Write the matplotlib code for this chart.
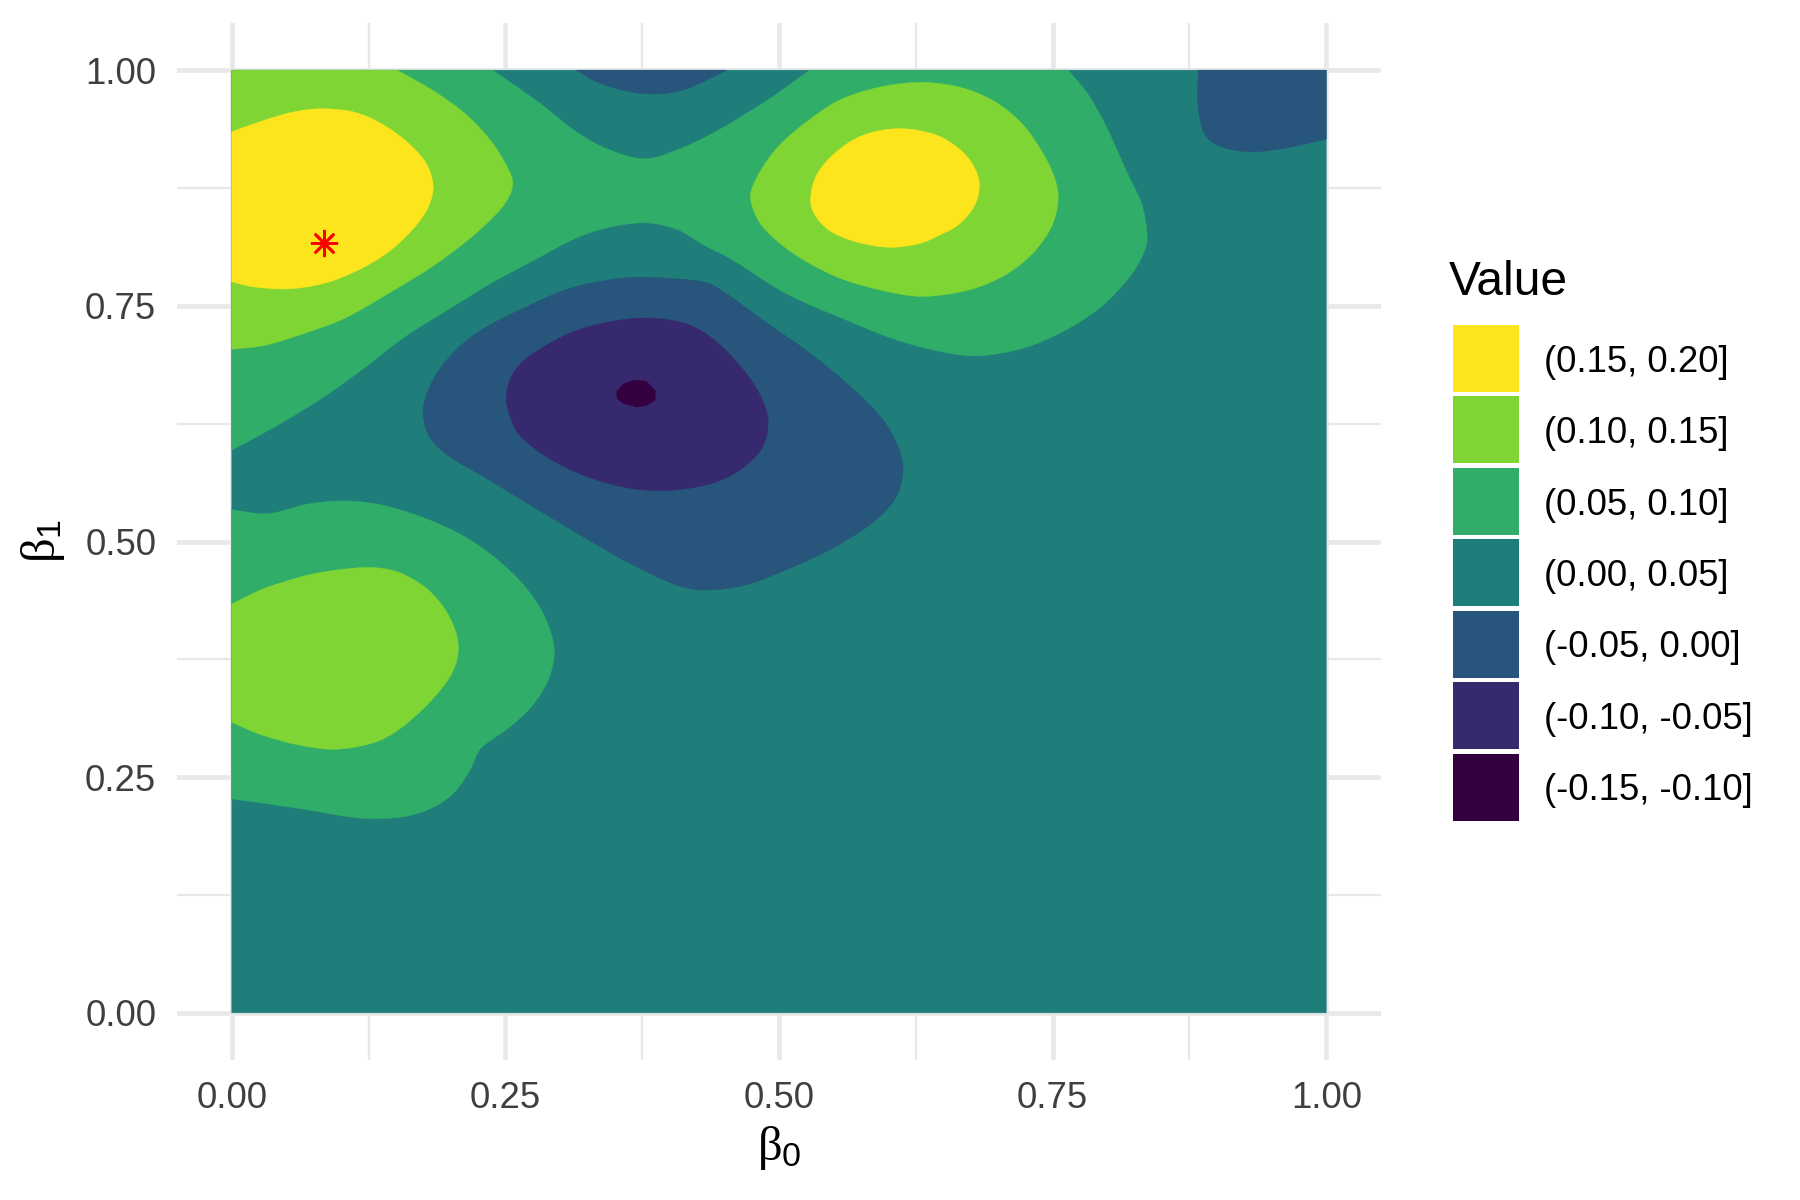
import matplotlib
matplotlib.use("Agg")
import matplotlib.pyplot as plt
from matplotlib.patches import Patch, PathPatch
from matplotlib.path import Path

# contour outlines, (beta0, beta1)
green_top_lower = [(0, .597), (.040, .622), (.0825, .652), (.1187, .682), (.158, .717), (.195, .744), (.237, .774),
                   (.274, .797), (.313, .821), (.344, .833), (.378, .838), (.407, .831), (.432, .814),
                   (.458, .7985), (.5065, .763), (.5613, .735), (.607, .714), (.650, .701), (.683, .697),
                   (.723, .705), (.759, .7225), (.790, .745), (.811, .768), (.826, .790), (.835, .812), (.836, .830),
                   (.831, .859), (.817, .894), (.799, .940), (.782, .975), (.764, 1)]
green_top_notch = [(.528, 1), (.4944, .972), (.470, .954), (.444, .936), (.4125, .918), (.378, .906), (.344, .916),
                   (.313, .936), (.2815, .965), (.2385, 1)]
green_bottom = [(0, .534), (.0213, .530), (.0396, .5306), (.070, .5398), (.1035, .543), (.137, .5387), (.1766, .5246),
                (.213, .505), (.2435, .480), (.268, .452), (.286, .420), (.2947, .385), (.289, .353), (.274, .325),
                (.2527, .302), (.228, .281), (.2177, .2577), (.204, .2347), (.1857, .219), (.1613, .209),
                (.134, .206), (.1065, .208), (.061, .217), (0, .227)]
lime_left = [(0, .704), (.030, .708), (.067, .721), (.1035, .737), (.143, .763), (.183, .7915), (.216, .820),
             (.238, .843), (.2505, .860), (.2565, .877), (.2535, .893), (.2374, .924), (.213, .954), (.183, .979),
             (.151, 1)]
lime_mid = [(.4745, .860), (.4755, .875), (.484, .895), (.5005, .9205), (.525, .945), (.555, .968), (.592, .982),
            (.631, .987), (.668, .981), (.698, .966), (.723, .942), (.741, .912), (.752, .885), (.755, .862),
            (.749, .834), (.732, .806), (.707, .783), (.674, .767), (.631, .760), (.592, .767), (.552, .781),
            (.5126, .806), (.485, .834)]
lime_bottom = [(0, .4337), (.030, .4503), (.070, .4645), (.1035, .4708), (.131, .4722), (.155, .4662), (.1796, .4486),
               (.198, .422), (.207, .3902), (.201, .360), (.1796, .328), (.152, .300), (.128, .286), (.0944, .2796),
               (.061, .2842), (.0274, .2948), (0, .3082)]
yellow_left = [(0, .9346), (.030, .947), (.058, .956), (.082, .959), (.110, .956), (.134, .945), (.158, .926),
               (.1766, .903), (.184, .878), (.1796, .855), (.166, .832), (.143, .807), (.1157, .788), (.085, .774),
               (.052, .768), (.021, .770), (0, .7755)]
yellow_mid = [(.529, .866), (.535, .890), (.552, .913), (.577, .931), (.610, .938), (.644, .931), (.668, .913),
              (.680, .893), (.683, .875), (.678, .855), (.664, .836), (.645, .824), (.628, .816), (.601, .812),
              (.570, .818), (.546, .830), (.532, .848)]
blue_top = [(.3145, 1), (.339, .985), (.376, .975), (.4125, .979), (.452, 1)]
blue_right = [(.883, 1), (.883, .961), (.890, .930), (.909, .917), (.935, .9135), (.966, .918), (1, .927)]
blue_mid = [(.1747, .6377), (.1808, .664), (.196, .692), (.2235, .721), (.263, .7455), (.3087, .7685), (.354, .779),
            (.385, .780), (.430, .7755), (.4518, .763), (.485, .735), (.528, .700), (.5675, .662), (.595, .629),
            (.610, .597), (.613, .572), (.6055, .544), (.5827, .5175), (.546, .491), (.5065, .470), (.470, .454),
            (.4335, .4485), (.406, .454), (.3665, .475), (.324, .503), (.278, .535), (.2326, .567), (.199, .590),
            (.1808, .611)]
purple = [(.2508, .6536), (.2565, .677), (.2725, .697), (.3087, .721), (.345, .733), (.3817, .737), (.415, .731),
          (.4396, .715), (.464, .687), (.482, .657), (.490, .629), (.485, .6005), (.467, .578), (.4396, .562),
          (.403, .5545), (.3665, .556), (.324, .569), (.2874, .590), (.263, .613), (.254, .634)]
dark = [(.3513, .6589), (.3574, .667), (.3665, .6712), (.3787, .6705), (.3872, .660), (.3872, .650), (.3787, .6437),
        (.3696, .6423), (.3574, .6465), (.3519, .6518)]

beta0_best = [.0843]
beta1_best = [.8165]

major_ticks = [0, .25, .5, .75, 1]
minor_ticks = [.125, .375, .625, .875]
tick_labels = ["0.00", "0.25", "0.50", "0.75", "1.00"]

bins = ["(0.15, 0.20]", "(0.10, 0.15]", "(0.05, 0.10]", "(0.00, 0.05]",
        "(-0.05, 0.00]", "(-0.10, -0.05]", "(-0.15, -0.10]"]
colors = ["#FDE51E", "#7FD534", "#30AE69", "#1F7E79", "#27557B", "#36296E", "#34003F"]

plt.rcParams["font.family"] = ["Liberation Sans", "DejaVu Sans"]
plt.rcParams["mathtext.fontset"] = "custom"
plt.rcParams["mathtext.rm"] = "Liberation Sans"
plt.rcParams["mathtext.it"] = "Liberation Serif"


def smooth_run(pts, closed=False):
    # Catmull-Rom through the points, returned as bezier vertices
    n = len(pts)
    verts = []
    last = n if closed else n - 1
    for i in range(last):
        if closed:
            p0, p1, p2, p3 = pts[i - 1], pts[i], pts[(i + 1) % n], pts[(i + 2) % n]
        else:
            p0, p1, p2, p3 = pts[max(i - 1, 0)], pts[i], pts[i + 1], pts[min(i + 2, n - 1)]
        c1 = (p1[0] + (p2[0] - p0[0]) / 6, p1[1] + (p2[1] - p0[1]) / 6)
        c2 = (p2[0] - (p3[0] - p1[0]) / 6, p2[1] - (p3[1] - p1[1]) / 6)
        verts += [c1, c2, p2]
    return verts


def add_region(ax, runs, color, z, closed=False):
    verts = []
    codes = []
    for run in runs:
        verts.append(run[0])
        codes.append(Path.LINETO if codes else Path.MOVETO)
        if len(run) > 1:
            curve = smooth_run(run, closed)
            verts += curve
            codes += [Path.CURVE4] * len(curve)
    verts.append(verts[0])
    codes.append(Path.CLOSEPOLY)
    ax.add_patch(PathPatch(Path(verts, codes), fc=color, ec=color, lw=0.3, zorder=z))


def main():
    fig = plt.figure(figsize=(18, 12), dpi=100)
    ax = fig.add_axes([177 / 1800, 140 / 1200, 1204 / 1800, 1037 / 1200])
    ax.set_xlim(-.05, 1.05)
    ax.set_ylim(-.05, 1.05)

    ax.set_xticks(major_ticks)
    ax.set_xticklabels(tick_labels)
    ax.set_yticks(major_ticks)
    ax.set_yticklabels(tick_labels)
    ax.set_xticks(minor_ticks, minor=True)
    ax.set_yticks(minor_ticks, minor=True)
    ax.grid(True, which="major", color="#E8E8E8", lw=3.3, zorder=0)
    ax.grid(True, which="minor", color="#E8E8E8", lw=1.65, zorder=0)
    ax.set_axisbelow(True)
    ax.tick_params(which="both", length=0)
    ax.tick_params(axis="both", labelsize=26.3, labelcolor="#3F3F3F", pad=15)
    for s in ax.spines.values():
        s.set_visible(False)

    add_region(ax, [[(0, 0), (1, 0)], [(1, 1)], [(0, 1)]], colors[3], 2)
    add_region(ax, [green_top_lower, green_top_notch, [(0, 1)]], colors[2], 3)
    add_region(ax, [green_bottom], colors[2], 3)
    add_region(ax, [lime_left, [(0, 1)]], colors[1], 4)
    add_region(ax, [lime_mid], colors[1], 4, closed=True)
    add_region(ax, [lime_bottom], colors[1], 4)
    add_region(ax, [yellow_left], colors[0], 5)
    add_region(ax, [yellow_mid], colors[0], 5, closed=True)
    add_region(ax, [blue_top], colors[4], 3)
    add_region(ax, [blue_right, [(1, 1)]], colors[4], 3)
    add_region(ax, [blue_mid], colors[4], 3, closed=True)
    add_region(ax, [purple], colors[5], 4, closed=True)
    ax.fill(*zip(*dark), color=colors[6], lw=0, zorder=5)

    ax.scatter(beta0_best, beta1_best, marker=(8, 2, 0), s=324, c="#FF0000", lw=1.9, zorder=6)

    ax.set_xlabel(r"$\beta_{0}$", fontsize=35, labelpad=6)
    ax.set_ylabel(r"$\beta_{1}$", fontsize=35, labelpad=13)

    handles = [Patch(fc=c, ec="none") for c in colors]
    leg = fig.legend(handles, bins, loc="upper left", bbox_to_anchor=(1453 / 1800, 1 - 325 / 1200),
                     frameon=False, fontsize=26.3, handlelength=1.81, handleheight=2.44,
                     handletextpad=.69, labelspacing=.125, borderpad=0, borderaxespad=0)
    for t in leg.get_texts():
        t.set_y(-2)
    fig.text(1449 / 1800, 1 - 295 / 1200, "Value", fontsize=34.5, ha="left", va="baseline", color="black")

    fig.savefig("out.png", dpi=100, facecolor="white")


main()
